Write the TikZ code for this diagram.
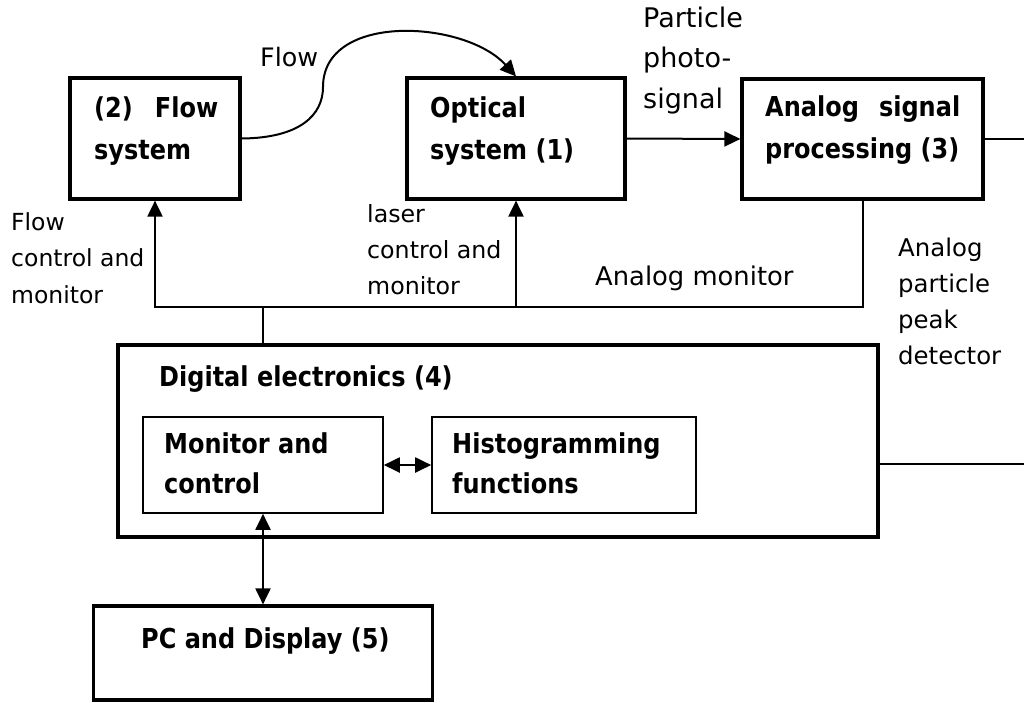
\documentclass[tikz,border=0pt]{standalone}
\usepackage{fontspec}
\setmainfont{DejaVu Sans}
\newfontfamily\bx{DejaVu Sans}[FakeStretch=0.876]
\usetikzlibrary{arrows.meta}
\begin{document}
\begin{tikzpicture}[x=1pt,y=-1pt,
  bigbox/.style={draw,line width=3.2pt,inner sep=0pt},
  smallbox/.style={draw,line width=1.6pt,inner sep=0pt},
  bt/.style={inner sep=0pt,anchor=base west,align=left,font=\bx\bfseries\fontsize{27.4}{42}\selectfont},
  lt/.style={inner sep=0pt,anchor=base west,align=left},
  conn/.style={line width=2pt},
  arr/.style={conn,-{Triangle[length=16pt,width=15pt]}},
  darr/.style={conn,{Triangle[length=16pt,width=15pt]}-{Triangle[length=16pt,width=15pt]}}]
\useasboundingbox (0,0) rectangle (1024,702);
% boxes
\node[bigbox,minimum width=170pt,minimum height=121pt] (flow) at (155,138.5) {};
\node[bigbox,minimum width=218pt,minimum height=121pt] (opt) at (516,138.5) {};
\node[bigbox,minimum width=241pt,minimum height=120pt] (anl) at (862.5,139) {};
\node[bigbox,minimum width=760pt,minimum height=192pt] (dig) at (498,441) {};
\node[smallbox,minimum width=240pt,minimum height=96pt] (mon) at (263,465) {};
\node[smallbox,minimum width=264pt,minimum height=96pt] (hist) at (564,465) {};
\node[bigbox,minimum width=339pt,minimum height=94pt] (pc) at (263,653) {};
% box texts (base anchor = baseline of the last line)
\node[bt] (flowt) at (94,159) {\makebox[124pt][s]{(2) Flow}\\system};
\node[bt] (optt) at (430,159) {Optical\\system (1)};
\node[bt] (anlt) at (765,158) {\makebox[195pt][s]{Analog signal}\\processing (3)};
\node[bt] (digt) at (159,386) {Digital electronics (4)};
\node[bt,font=\bx\bfseries\fontsize{27.4}{40}\selectfont] (mont) at (164,493) {Monitor and\\control};
\node[bt,font=\bx\bfseries\fontsize{27.4}{40}\selectfont] (histt) at (452,493) {Histogramming\\functions};
\node[bt] (pct) at (141,648) {PC and Display (5)};
% labels
\node[lt,font=\fontsize{25.4}{30}\selectfont] (flowl) at (260,66) {Flow};
\node[lt,font=\fontsize{23.5}{36.5}\selectfont] (fcl) at (11,303) {Flow\\control and\\monitor};
\node[lt,font=\fontsize{23.7}{36}\selectfont] (lcl) at (367,294) {laser\\control and\\monitor};
\node[lt,font=\fontsize{27}{40.5}\selectfont] (pps) at (643,108) {Particle\\photo-\\signal};
\node[lt,font=\fontsize{25.8}{30}\selectfont] (am) at (595,285) {Analog monitor};
\node[lt,font=\fontsize{24.4}{35.7}\selectfont] (appd) at (898,364) {Analog\\particle\\peak\\detector};
% connectors
\coordinate (busL) at (155,307);
\coordinate (e1) at (1024,139);
\coordinate (e2) at (1024,464);
\draw[arr] (flow.east) .. controls (300,138) and (323,115) .. (323,87)
  .. controls (323,12) and (465,20) .. (opt.north);
\draw[arr] (opt.east) -- (anl.west);
\draw[conn] (anl.east) -- (e1);
\draw[conn] (dig.east |- e2) -- (e2);
\draw[arr] (anl.south) |- (busL) -- (flow.south);
\draw[arr] (opt.south |- busL) -- (opt.south);
\draw[conn] (mon.north |- busL) -- (mon.north |- dig.north);
\draw[darr] (mon.east) -- (hist.west);
\draw[darr] (mon.south) -- (pc.north);
\end{tikzpicture}
\end{document}
